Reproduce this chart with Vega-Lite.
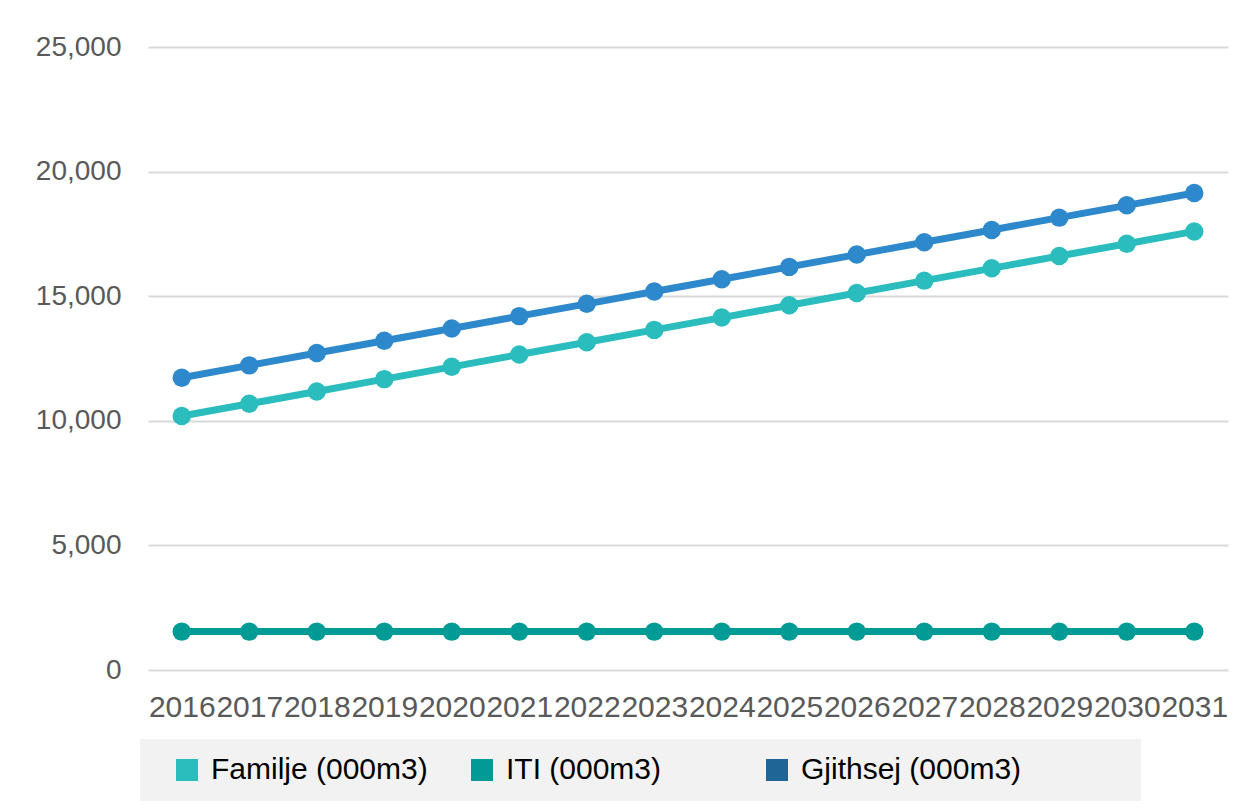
{
  "$schema": "https://vega.github.io/schema/vega-lite/v6.json",
  "width": 1080,
  "height": 623,
  "autosize": {"type": "none"},
  "padding": {"left": 148, "top": 47, "right": 26, "bottom": 138},
  "background": "#ffffff",
  "config": {
    "view": {"stroke": null},
    "font": "Liberation Sans"
  },
  "data": {
    "values": [
      {"year": "2016", "series": "Familje (000m3)", "value": 10190},
      {"year": "2017", "series": "Familje (000m3)", "value": 10684},
      {"year": "2018", "series": "Familje (000m3)", "value": 11178},
      {"year": "2019", "series": "Familje (000m3)", "value": 11672},
      {"year": "2020", "series": "Familje (000m3)", "value": 12166},
      {"year": "2021", "series": "Familje (000m3)", "value": 12660},
      {"year": "2022", "series": "Familje (000m3)", "value": 13154},
      {"year": "2023", "series": "Familje (000m3)", "value": 13648},
      {"year": "2024", "series": "Familje (000m3)", "value": 14142},
      {"year": "2025", "series": "Familje (000m3)", "value": 14636},
      {"year": "2026", "series": "Familje (000m3)", "value": 15130},
      {"year": "2027", "series": "Familje (000m3)", "value": 15624},
      {"year": "2028", "series": "Familje (000m3)", "value": 16118},
      {"year": "2029", "series": "Familje (000m3)", "value": 16612},
      {"year": "2030", "series": "Familje (000m3)", "value": 17106},
      {"year": "2031", "series": "Familje (000m3)", "value": 17600},
      {"year": "2016", "series": "ITI (000m3)", "value": 1540},
      {"year": "2017", "series": "ITI (000m3)", "value": 1540},
      {"year": "2018", "series": "ITI (000m3)", "value": 1540},
      {"year": "2019", "series": "ITI (000m3)", "value": 1540},
      {"year": "2020", "series": "ITI (000m3)", "value": 1540},
      {"year": "2021", "series": "ITI (000m3)", "value": 1540},
      {"year": "2022", "series": "ITI (000m3)", "value": 1540},
      {"year": "2023", "series": "ITI (000m3)", "value": 1540},
      {"year": "2024", "series": "ITI (000m3)", "value": 1540},
      {"year": "2025", "series": "ITI (000m3)", "value": 1540},
      {"year": "2026", "series": "ITI (000m3)", "value": 1540},
      {"year": "2027", "series": "ITI (000m3)", "value": 1540},
      {"year": "2028", "series": "ITI (000m3)", "value": 1540},
      {"year": "2029", "series": "ITI (000m3)", "value": 1540},
      {"year": "2030", "series": "ITI (000m3)", "value": 1540},
      {"year": "2031", "series": "ITI (000m3)", "value": 1540},
      {"year": "2016", "series": "Gjithsej (000m3)", "value": 11730},
      {"year": "2017", "series": "Gjithsej (000m3)", "value": 12224},
      {"year": "2018", "series": "Gjithsej (000m3)", "value": 12718},
      {"year": "2019", "series": "Gjithsej (000m3)", "value": 13212},
      {"year": "2020", "series": "Gjithsej (000m3)", "value": 13706},
      {"year": "2021", "series": "Gjithsej (000m3)", "value": 14200},
      {"year": "2022", "series": "Gjithsej (000m3)", "value": 14694},
      {"year": "2023", "series": "Gjithsej (000m3)", "value": 15188},
      {"year": "2024", "series": "Gjithsej (000m3)", "value": 15682},
      {"year": "2025", "series": "Gjithsej (000m3)", "value": 16176},
      {"year": "2026", "series": "Gjithsej (000m3)", "value": 16670},
      {"year": "2027", "series": "Gjithsej (000m3)", "value": 17164},
      {"year": "2028", "series": "Gjithsej (000m3)", "value": 17658},
      {"year": "2029", "series": "Gjithsej (000m3)", "value": 18152},
      {"year": "2030", "series": "Gjithsej (000m3)", "value": 18646},
      {"year": "2031", "series": "Gjithsej (000m3)", "value": 19140}
    ]
  },
  "encoding": {
    "x": {
      "field": "year",
      "type": "ordinal",
      "scale": {"type": "point", "padding": 0.5},
      "axis": {
        "title": null,
        "labelAngle": 0,
        "labelFontSize": 30,
        "labelColor": "#595959",
        "labelPadding": 22,
        "ticks": false,
        "domain": false,
        "grid": false,
        "labelOverlap": false
      }
    },
    "y": {
      "field": "value",
      "type": "quantitative",
      "scale": {"domain": [0, 25000], "nice": false},
      "axis": {
        "title": null,
        "values": [0, 5000, 10000, 15000, 20000, 25000],
        "format": ",.0f",
        "labelFontSize": 28,
        "labelColor": "#595959",
        "labelPadding": 27,
        "ticks": false,
        "domain": false,
        "grid": true,
        "gridColor": "#D9D9D9",
        "gridWidth": 2
      }
    }
  },
  "layer": [
    {
      "mark": {"type": "square", "opacity": 0, "size": 1},
      "encoding": {
        "fill": {
          "field": "series",
          "type": "nominal",
          "scale": {
            "domain": ["Familje (000m3)", "ITI (000m3)", "Gjithsej (000m3)"],
            "range": ["#2BBDBD", "#009B95", "#1F6595"]
          },
          "legend": {
            "title": "\u00a0",
            "titleOrient": "right",
            "titlePadding": 104,
            "titleFontSize": 10,
            "orient": "none",
            "legendX": -8,
            "legendY": 692,
            "direction": "horizontal",
            "columns": 3,
            "gridAlign": "all",
            "columnPadding": 19,
            "fillColor": "#F2F2F2",
            "padding": 16,
            "symbolOffset": 16,
            "symbolType": "square",
            "symbolSize": 484,
            "symbolStrokeWidth": 0,
            "symbolOpacity": 1,
            "labelFontSize": 30,
            "labelColor": "#000000",
            "labelOffset": 9,
            "labelLimit": 400,
            "encode": {
              "symbols": {"update": {"opacity": {"value": 1}, "fillOpacity": {"value": 1}}}
            }
          }
        }
      }
    },
    {
      "mark": {"type": "line", "strokeWidth": 7},
      "encoding": {
        "color": {
          "field": "series",
          "type": "nominal",
          "scale": {
            "domain": ["Familje (000m3)", "ITI (000m3)", "Gjithsej (000m3)"],
            "range": ["#2BBDBD", "#009B95", "#2E88CC"]
          },
          "legend": null
        }
      }
    },
    {
      "mark": {"type": "point", "filled": true, "size": 340, "opacity": 1},
      "encoding": {
        "color": {
          "field": "series",
          "type": "nominal",
          "legend": null
        }
      }
    }
  ]
}
